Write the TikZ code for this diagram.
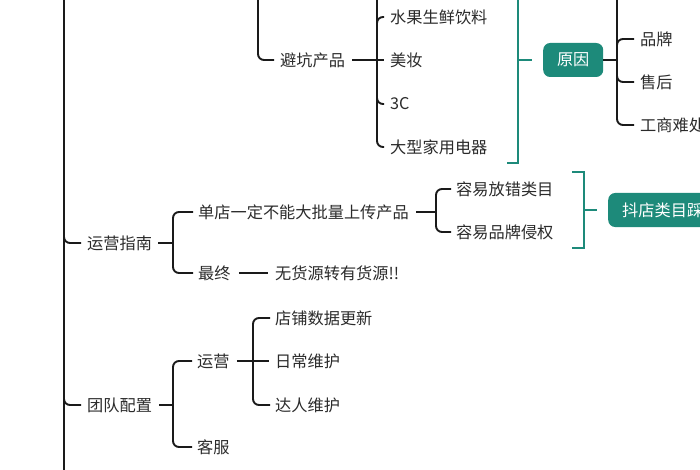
\documentclass[tikz,border=0pt]{standalone}
\usepackage{fontspec}
\newfontfamily\cjk{Noto Sans CJK SC}
\definecolor{txt}{HTML}{2B2B2B}
\definecolor{ln}{HTML}{1A1A1A}
\definecolor{tealc}{HTML}{1D8A7A}
\tikzset{
  lbl/.style={anchor=west, inner sep=0pt, text=txt, font=\cjk\fontsize{16.2}{17}\selectfont},
  conn/.style={draw=ln, line width=1.9pt, rounded corners=6pt},
  trunk/.style={draw=ln, line width=2.6pt},
  tealline/.style={draw=tealc, line width=2pt},
  tealbox/.style={anchor=west, fill=tealc, text=white, rounded corners=7pt, minimum height=34pt, inner xsep=14pt, inner ysep=0pt, font=\cjk\fontsize{16.2}{17}\selectfont}
}
\begin{document}
\begin{tikzpicture}[x=1pt,y=-1pt]
\useasboundingbox (0,0) rectangle (700,470);
\clip (0,0) rectangle (700,470);
\fill[white] (0,0) rectangle (700,470);

% trunk
\coordinate (trunkTop) at (64,0);
\coordinate (trunkBot) at (64,470);
\draw[trunk] (trunkTop) -- (trunkBot);

% ---------- top group ----------
\node[lbl] (bkcp) at (280,60) {避坑产品};
\node[lbl] (sgsx) at (390,17) {水果生鲜饮料};
\node[lbl] (mz)   at (390,60) {美妆};
\node[lbl] (sanc) at (390,104) {3C};
\node[lbl] (dxjy) at (390,147) {大型家用电器};

\coordinate (s1top) at (258,0);
\draw[conn] (s1top) |- ([xshift=-6pt]bkcp.west);
\coordinate (s2top) at (377,0);
\draw[conn] (s2top) |- ([xshift=-6pt]dxjy.west);
\draw[conn] (377,30) |- ([xshift=-6pt]sgsx.west);
\draw[conn] ([xshift=7pt]bkcp.east) -- ([xshift=-6pt]mz.west);
\draw[conn] (377,92) |- ([xshift=-6pt]sanc.west);

% teal bracket 1
\node[tealbox, minimum width=60pt, inner xsep=0pt] (yy) at (543,60) {原因};
\coordinate (t1top) at (518,0);
\coordinate (t1bot) at (507,163);
\draw[tealline] (t1top) |- (t1bot);
\draw[tealline] (518,60) -- ([xshift=-11pt]yy.west);

\node[lbl] (pp)   at (640,39) {品牌};
\node[lbl] (sh)   at (640,82) {售后};
\node[lbl] (gsnc) at (640,125) {工商难处};
\coordinate (s3top) at (617,0);
\draw[conn] (s3top) |- ([xshift=-6pt]gsnc.west);
\draw[conn] (yy.east) -- (617,60);
\draw[conn] (617,52) |- ([xshift=-6pt]pp.west);
\draw[conn] (617,70) |- ([xshift=-6pt]sh.west);

% ---------- middle group ----------
\node[lbl] (yyzn) at (87,243) {运营指南};
\draw[conn] (64,232) |- ([xshift=-6pt]yyzn.west);
\node[lbl] (dd) at (198,212) {单店一定不能大批量上传产品};
\node[lbl] (zz) at (198,273) {最终};
\node[lbl] (whz) at (275,273) {无货源转有货源!!};
\coordinate (c4) at (173,243);
\draw[conn] ([xshift=-5pt]dd.west) -| (c4) |- ([xshift=-5pt]zz.west);
\draw[conn] ([xshift=6pt]yyzn.east) -- (c4);
\draw[conn] ([xshift=8pt]zz.east) -- ([xshift=-7pt]whz.west);

\node[lbl] (rycw) at (456,189) {容易放错类目};
\node[lbl] (rypp) at (456,232) {容易品牌侵权};
\coordinate (c5) at (436,212);
\draw[conn] ([xshift=-5pt]rycw.west) -| (c5) |- ([xshift=-5pt]rypp.west);
\draw[conn] ([xshift=7pt]dd.east) -- (c5);

% teal bracket 2
\node[tealbox] (dk) at (608,210) {抖店类目踩坑};
\coordinate (t2a) at (572,172);
\coordinate (t2b) at (584,248);
\coordinate (t2c) at (572,248);
\draw[tealline] (t2a) -| (t2b) -- (t2c);
\draw[tealline] (584,210) -- ([xshift=-11pt]dk.west);

% ---------- bottom group ----------
\node[lbl] (tdpz) at (87,405) {团队配置};
\draw[conn] (64,394) |- ([xshift=-6pt]tdpz.west);
\node[lbl] (yy2) at (197,361) {运营};
\node[lbl] (kf)  at (197,447) {客服};
\coordinate (c6) at (173,405);
\draw[conn] ([xshift=-5pt]yy2.west) -| (c6) |- ([xshift=-5pt]kf.west);
\draw[conn] ([xshift=7pt]tdpz.east) -- (c6);

\node[lbl] (dp) at (275,318) {店铺数据更新};
\node[lbl] (rc) at (275,361) {日常维护};
\node[lbl] (dr) at (275,405) {达人维护};
\coordinate (c7) at (253,361);
\draw[conn] ([xshift=-5pt]dp.west) -| (c7) |- ([xshift=-5pt]dr.west);
\draw[conn] ([xshift=7pt]yy2.east) -- ([xshift=-6pt]rc.west);
\end{tikzpicture}
\end{document}
